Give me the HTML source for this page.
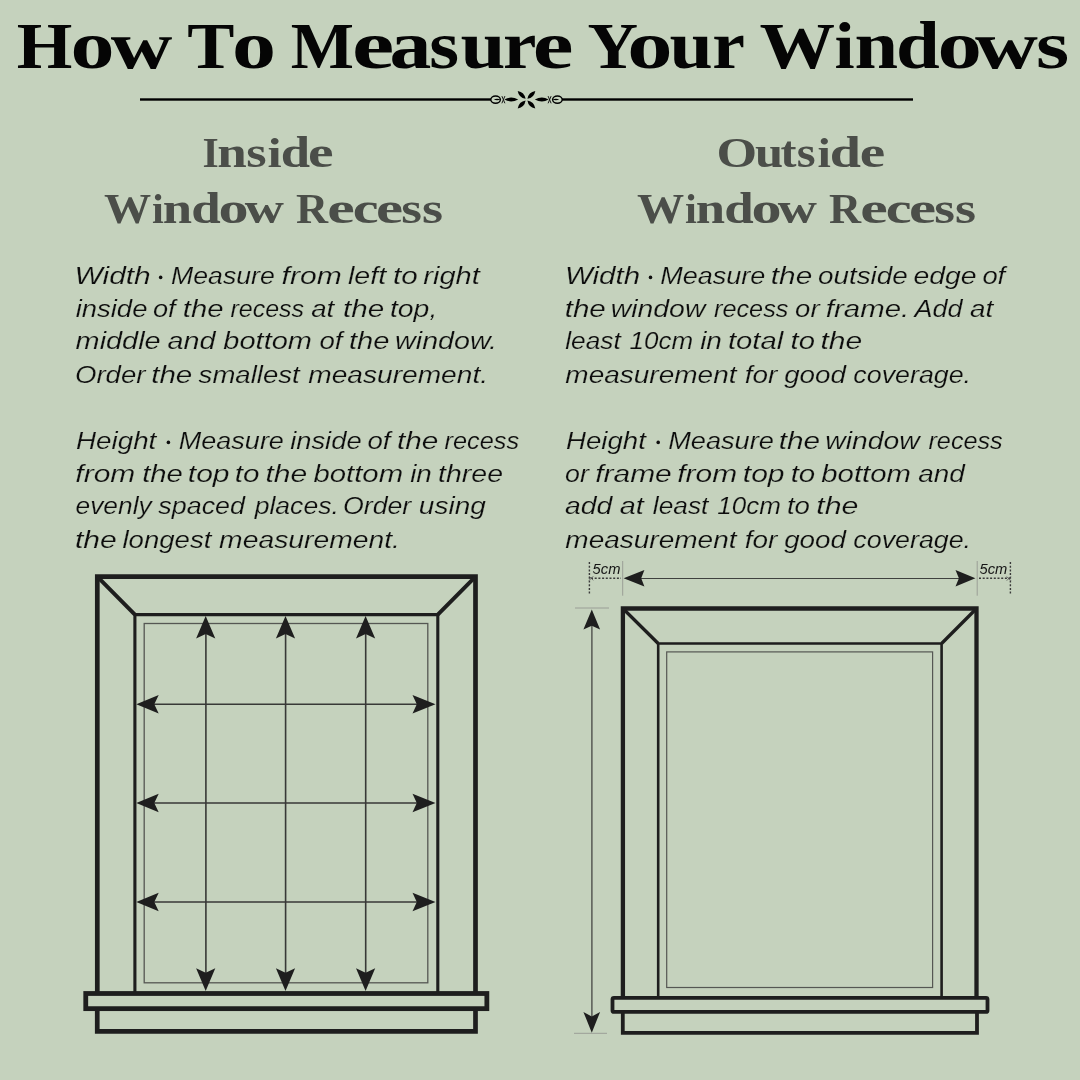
<!DOCTYPE html>
<html>
<head>
<meta charset="utf-8">
<style>
html,body{margin:0;padding:0;}
body{width:1080px;height:1080px;background:#c5d2bd;overflow:hidden;}
svg{display:block;}
svg{will-change:transform;}
.t{font-family:"Liberation Serif",serif;font-weight:bold;}
.b{font-family:"Liberation Sans",sans-serif;font-style:italic;font-size:23.3px;fill:#0d0d0d;stroke:#c5d2bd;stroke-width:0.2px;}
.h{font-family:"Liberation Serif",serif;font-weight:bold;fill:#4b4e49;}
</style>
</head>
<body>
<svg width="1080" height="1080" viewBox="0 0 1080 1080">
<rect width="1080" height="1080" fill="#c5d2bd"/>
<!-- Title -->
<!--TITLE-->
<g fill="#050505">
<text class="t" x="16.68" y="68.2" font-size="66.3" textLength="55.61" lengthAdjust="spacingAndGlyphs">H</text>
<text class="t" x="70.55" y="68.2" font-size="68.5" textLength="44.00" lengthAdjust="spacingAndGlyphs">o</text>
<text class="t" x="110.65" y="68.2" font-size="68.5" textLength="61.61" lengthAdjust="spacingAndGlyphs">w</text>
<text class="t" x="187.29" y="68.2" font-size="66.3" textLength="47.18" lengthAdjust="spacingAndGlyphs">T</text>
<text class="t" x="232.05" y="68.2" font-size="68.5" textLength="44.00" lengthAdjust="spacingAndGlyphs">o</text>
<text class="t" x="290.86" y="68.2" font-size="66.3" textLength="63.17" lengthAdjust="spacingAndGlyphs">M</text>
<text class="t" x="352.05" y="68.2" font-size="68.5" textLength="42.21" lengthAdjust="spacingAndGlyphs">e</text>
<text class="t" x="389.50" y="68.2" font-size="68.5" textLength="41.87" lengthAdjust="spacingAndGlyphs">a</text>
<text class="t" x="429.28" y="68.2" font-size="68.5" textLength="29.79" lengthAdjust="spacingAndGlyphs">s</text>
<text class="t" x="460.48" y="68.2" font-size="68.5" textLength="45.00" lengthAdjust="spacingAndGlyphs">u</text>
<text class="t" x="503.08" y="68.2" font-size="68.5" textLength="33.44" lengthAdjust="spacingAndGlyphs">r</text>
<text class="t" x="532.67" y="68.2" font-size="68.5" textLength="40.71" lengthAdjust="spacingAndGlyphs">e</text>
<text class="t" x="587.47" y="68.2" font-size="66.3" textLength="50.56" lengthAdjust="spacingAndGlyphs">Y</text>
<text class="t" x="627.35" y="68.2" font-size="68.5" textLength="45.30" lengthAdjust="spacingAndGlyphs">o</text>
<text class="t" x="669.62" y="68.2" font-size="68.5" textLength="43.27" lengthAdjust="spacingAndGlyphs">u</text>
<text class="t" x="712.22" y="68.2" font-size="68.5" textLength="32.66" lengthAdjust="spacingAndGlyphs">r</text>
<text class="t" x="759.53" y="68.2" font-size="66.3" textLength="75.55" lengthAdjust="spacingAndGlyphs">W</text>
<text class="t" x="834.41" y="68.2" font-size="66.0" textLength="20.16" lengthAdjust="spacingAndGlyphs">i</text>
<text class="t" x="854.40" y="68.2" font-size="68.5" textLength="43.59" lengthAdjust="spacingAndGlyphs">n</text>
<text class="t" x="896.01" y="68.2" font-size="67.5" textLength="43.77" lengthAdjust="spacingAndGlyphs">d</text>
<text class="t" x="937.42" y="68.2" font-size="68.5" textLength="44.36" lengthAdjust="spacingAndGlyphs">o</text>
<text class="t" x="974.94" y="68.2" font-size="68.5" textLength="62.92" lengthAdjust="spacingAndGlyphs">w</text>
<text class="t" x="1036.12" y="68.2" font-size="68.5" textLength="33.16" lengthAdjust="spacingAndGlyphs">s</text>
</g>
<!--/TITLE-->

<!-- Headers -->
<g class="h">
<text x="202.40" y="166.6" font-size="42.5" textLength="16.21" lengthAdjust="spacingAndGlyphs">I</text>
<text x="217.27" y="166.6" font-size="44.6" textLength="29.53" lengthAdjust="spacingAndGlyphs">n</text>
<text x="246.32" y="166.6" font-size="44.6" textLength="20.36" lengthAdjust="spacingAndGlyphs">s</text>
<text x="267.58" y="166.6" font-size="41.5" textLength="14.17" lengthAdjust="spacingAndGlyphs">i</text>
<text x="280.76" y="166.6" font-size="43.8" textLength="29.33" lengthAdjust="spacingAndGlyphs">d</text>
<text x="308.13" y="166.6" font-size="44.6" textLength="25.56" lengthAdjust="spacingAndGlyphs">e</text>
<text x="104.03" y="222.8" font-size="42.5" textLength="47.21" lengthAdjust="spacingAndGlyphs">W</text>
<text x="152.06" y="222.8" font-size="41.5" textLength="11.86" lengthAdjust="spacingAndGlyphs">i</text>
<text x="162.78" y="222.8" font-size="44.6" textLength="29.31" lengthAdjust="spacingAndGlyphs">n</text>
<text x="191.15" y="222.8" font-size="43.8" textLength="29.44" lengthAdjust="spacingAndGlyphs">d</text>
<text x="218.51" y="222.8" font-size="44.6" textLength="30.08" lengthAdjust="spacingAndGlyphs">o</text>
<text x="244.84" y="222.8" font-size="44.6" textLength="39.15" lengthAdjust="spacingAndGlyphs">w</text>
<text x="296.04" y="222.8" font-size="42.5" textLength="32.07" lengthAdjust="spacingAndGlyphs">R</text>
<text x="327.28" y="222.8" font-size="44.6" textLength="27.52" lengthAdjust="spacingAndGlyphs">e</text>
<text x="352.71" y="222.8" font-size="44.6" textLength="25.84" lengthAdjust="spacingAndGlyphs">c</text>
<text x="375.92" y="222.8" font-size="44.6" textLength="27.06" lengthAdjust="spacingAndGlyphs">e</text>
<text x="401.39" y="222.8" font-size="44.6" textLength="20.71" lengthAdjust="spacingAndGlyphs">s</text>
<text x="422.06" y="222.8" font-size="44.6" textLength="21.06" lengthAdjust="spacingAndGlyphs">s</text>
<text x="716.45" y="166.6" font-size="42.5" textLength="40.60" lengthAdjust="spacingAndGlyphs">O</text>
<text x="754.93" y="166.6" font-size="44.6" textLength="28.12" lengthAdjust="spacingAndGlyphs">u</text>
<text x="780.43" y="166.6" font-size="43.5" textLength="15.98" lengthAdjust="spacingAndGlyphs">t</text>
<text x="796.83" y="166.6" font-size="44.6" textLength="18.85" lengthAdjust="spacingAndGlyphs">s</text>
<text x="817.64" y="166.6" font-size="41.5" textLength="13.36" lengthAdjust="spacingAndGlyphs">i</text>
<text x="829.73" y="166.6" font-size="43.8" textLength="31.20" lengthAdjust="spacingAndGlyphs">d</text>
<text x="859.74" y="166.6" font-size="44.6" textLength="25.44" lengthAdjust="spacingAndGlyphs">e</text>
<text x="637.03" y="222.8" font-size="42.5" textLength="47.21" lengthAdjust="spacingAndGlyphs">W</text>
<text x="685.06" y="222.8" font-size="41.5" textLength="11.86" lengthAdjust="spacingAndGlyphs">i</text>
<text x="695.78" y="222.8" font-size="44.6" textLength="29.31" lengthAdjust="spacingAndGlyphs">n</text>
<text x="724.15" y="222.8" font-size="43.8" textLength="29.44" lengthAdjust="spacingAndGlyphs">d</text>
<text x="751.51" y="222.8" font-size="44.6" textLength="30.08" lengthAdjust="spacingAndGlyphs">o</text>
<text x="777.84" y="222.8" font-size="44.6" textLength="39.15" lengthAdjust="spacingAndGlyphs">w</text>
<text x="829.04" y="222.8" font-size="42.5" textLength="32.07" lengthAdjust="spacingAndGlyphs">R</text>
<text x="860.28" y="222.8" font-size="44.6" textLength="27.52" lengthAdjust="spacingAndGlyphs">e</text>
<text x="885.71" y="222.8" font-size="44.6" textLength="25.84" lengthAdjust="spacingAndGlyphs">c</text>
<text x="908.92" y="222.8" font-size="44.6" textLength="27.06" lengthAdjust="spacingAndGlyphs">e</text>
<text x="934.39" y="222.8" font-size="44.6" textLength="20.71" lengthAdjust="spacingAndGlyphs">s</text>
<text x="955.06" y="222.8" font-size="44.6" textLength="21.06" lengthAdjust="spacingAndGlyphs">s</text>
</g>
<!-- Body left -->
<g class="b">
<text x="74.52" y="283.9" textLength="76.25" lengthAdjust="spacingAndGlyphs">Width</text>
<circle cx="160.65" cy="277.4" r="1.8" stroke="none"/>
<text x="171.08" y="283.9" textLength="103.61" lengthAdjust="spacingAndGlyphs">Measure</text>
<text x="281.59" y="283.9" textLength="60.11" lengthAdjust="spacingAndGlyphs">from</text>
<text x="347.94" y="283.9" textLength="38.17" lengthAdjust="spacingAndGlyphs">left</text>
<text x="392.96" y="283.9" textLength="24.68" lengthAdjust="spacingAndGlyphs">to</text>
<text x="423.32" y="283.9" textLength="56.48" lengthAdjust="spacingAndGlyphs">right</text>
<text x="75.66" y="316.8" textLength="71.76" lengthAdjust="spacingAndGlyphs">inside</text>
<text x="153.01" y="316.8" textLength="22.64" lengthAdjust="spacingAndGlyphs">of</text>
<text x="182.77" y="316.8" textLength="40.72" lengthAdjust="spacingAndGlyphs">the</text>
<text x="230.48" y="316.8" textLength="73.63" lengthAdjust="spacingAndGlyphs">recess</text>
<text x="311.18" y="316.8" textLength="23.06" lengthAdjust="spacingAndGlyphs">at</text>
<text x="343.06" y="316.8" textLength="41.14" lengthAdjust="spacingAndGlyphs">the</text>
<text x="389.91" y="316.8" textLength="47.39" lengthAdjust="spacingAndGlyphs">top,</text>
<text x="75.62" y="349.4" textLength="85.05" lengthAdjust="spacingAndGlyphs">middle</text>
<text x="167.55" y="349.4" textLength="47.99" lengthAdjust="spacingAndGlyphs">and</text>
<text x="223.39" y="349.4" textLength="88.55" lengthAdjust="spacingAndGlyphs">bottom</text>
<text x="319.40" y="349.4" textLength="23.02" lengthAdjust="spacingAndGlyphs">of</text>
<text x="348.98" y="349.4" textLength="40.50" lengthAdjust="spacingAndGlyphs">the</text>
<text x="395.09" y="349.4" textLength="101.96" lengthAdjust="spacingAndGlyphs">window.</text>
<text x="75.01" y="382.8" textLength="70.47" lengthAdjust="spacingAndGlyphs">Order</text>
<text x="151.16" y="382.8" textLength="41.14" lengthAdjust="spacingAndGlyphs">the</text>
<text x="198.63" y="382.8" textLength="101.01" lengthAdjust="spacingAndGlyphs">smallest</text>
<text x="308.23" y="382.8" textLength="179.81" lengthAdjust="spacingAndGlyphs">measurement.</text>
<text x="75.94" y="448.9" textLength="80.39" lengthAdjust="spacingAndGlyphs">Height</text>
<circle cx="168.40" cy="442.4" r="1.8" stroke="none"/>
<text x="178.87" y="448.9" textLength="105.03" lengthAdjust="spacingAndGlyphs">Measure</text>
<text x="290.16" y="448.9" textLength="71.46" lengthAdjust="spacingAndGlyphs">inside</text>
<text x="367.40" y="448.9" textLength="23.02" lengthAdjust="spacingAndGlyphs">of</text>
<text x="396.95" y="448.9" textLength="41.35" lengthAdjust="spacingAndGlyphs">the</text>
<text x="444.58" y="448.9" textLength="74.54" lengthAdjust="spacingAndGlyphs">recess</text>
<text x="75.39" y="481.8" textLength="59.90" lengthAdjust="spacingAndGlyphs">from</text>
<text x="142.17" y="481.8" textLength="40.72" lengthAdjust="spacingAndGlyphs">the</text>
<text x="187.84" y="481.8" textLength="41.73" lengthAdjust="spacingAndGlyphs">top</text>
<text x="234.76" y="481.8" textLength="24.68" lengthAdjust="spacingAndGlyphs">to</text>
<text x="265.44" y="481.8" textLength="41.78" lengthAdjust="spacingAndGlyphs">the</text>
<text x="313.49" y="481.8" textLength="89.57" lengthAdjust="spacingAndGlyphs">bottom</text>
<text x="410.15" y="481.8" textLength="21.72" lengthAdjust="spacingAndGlyphs">in</text>
<text x="438.11" y="481.8" textLength="64.85" lengthAdjust="spacingAndGlyphs">three</text>
<text x="75.51" y="514.4" textLength="76.16" lengthAdjust="spacingAndGlyphs">evenly</text>
<text x="158.33" y="514.4" textLength="86.66" lengthAdjust="spacingAndGlyphs">spaced</text>
<text x="254.66" y="514.4" textLength="84.20" lengthAdjust="spacingAndGlyphs">places.</text>
<text x="342.95" y="514.4" textLength="68.35" lengthAdjust="spacingAndGlyphs">Order</text>
<text x="418.82" y="514.4" textLength="67.02" lengthAdjust="spacingAndGlyphs">using</text>
<text x="74.93" y="547.8" textLength="41.89" lengthAdjust="spacingAndGlyphs">the</text>
<text x="122.46" y="547.8" textLength="88.89" lengthAdjust="spacingAndGlyphs">longest</text>
<text x="219.13" y="547.8" textLength="180.84" lengthAdjust="spacingAndGlyphs">measurement.</text>
<text x="564.96" y="283.9" textLength="75.19" lengthAdjust="spacingAndGlyphs">Width</text>
<circle cx="650.50" cy="277.4" r="1.8" stroke="none"/>
<text x="660.27" y="283.9" textLength="105.13" lengthAdjust="spacingAndGlyphs">Measure</text>
<text x="770.85" y="283.9" textLength="41.35" lengthAdjust="spacingAndGlyphs">the</text>
<text x="817.99" y="283.9" textLength="89.74" lengthAdjust="spacingAndGlyphs">outside</text>
<text x="913.44" y="283.9" textLength="63.21" lengthAdjust="spacingAndGlyphs">edge</text>
<text x="982.40" y="283.9" textLength="22.83" lengthAdjust="spacingAndGlyphs">of</text>
<text x="564.66" y="316.8" textLength="41.14" lengthAdjust="spacingAndGlyphs">the</text>
<text x="610.79" y="316.8" textLength="94.59" lengthAdjust="spacingAndGlyphs">window</text>
<text x="713.98" y="316.8" textLength="74.44" lengthAdjust="spacingAndGlyphs">recess</text>
<text x="795.10" y="316.8" textLength="24.47" lengthAdjust="spacingAndGlyphs">or</text>
<text x="825.81" y="316.8" textLength="83.40" lengthAdjust="spacingAndGlyphs">frame.</text>
<text x="914.43" y="316.8" textLength="47.96" lengthAdjust="spacingAndGlyphs">Add</text>
<text x="969.97" y="316.8" textLength="23.26" lengthAdjust="spacingAndGlyphs">at</text>
<text x="565.28" y="349.4" textLength="55.51" lengthAdjust="spacingAndGlyphs">least</text>
<text x="629.63" y="349.4" textLength="63.58" lengthAdjust="spacingAndGlyphs">10cm</text>
<text x="700.15" y="349.4" textLength="21.83" lengthAdjust="spacingAndGlyphs">in</text>
<text x="727.97" y="349.4" textLength="55.27" lengthAdjust="spacingAndGlyphs">total</text>
<text x="790.57" y="349.4" textLength="24.35" lengthAdjust="spacingAndGlyphs">to</text>
<text x="820.44" y="349.4" textLength="41.78" lengthAdjust="spacingAndGlyphs">the</text>
<text x="565.34" y="382.8" textLength="171.19" lengthAdjust="spacingAndGlyphs">measurement</text>
<text x="744.86" y="382.8" textLength="32.50" lengthAdjust="spacingAndGlyphs">for</text>
<text x="784.15" y="382.8" textLength="61.82" lengthAdjust="spacingAndGlyphs">good</text>
<text x="853.32" y="382.8" textLength="117.76" lengthAdjust="spacingAndGlyphs">coverage.</text>
<text x="565.95" y="448.9" textLength="79.99" lengthAdjust="spacingAndGlyphs">Height</text>
<circle cx="658.20" cy="442.4" r="1.8" stroke="none"/>
<text x="668.16" y="448.9" textLength="105.74" lengthAdjust="spacingAndGlyphs">Measure</text>
<text x="778.65" y="448.9" textLength="41.35" lengthAdjust="spacingAndGlyphs">the</text>
<text x="825.29" y="448.9" textLength="94.29" lengthAdjust="spacingAndGlyphs">window</text>
<text x="928.48" y="448.9" textLength="74.24" lengthAdjust="spacingAndGlyphs">recess</text>
<text x="565.13" y="481.8" textLength="23.77" lengthAdjust="spacingAndGlyphs">or</text>
<text x="595.19" y="481.8" textLength="76.62" lengthAdjust="spacingAndGlyphs">frame</text>
<text x="677.19" y="481.8" textLength="59.90" lengthAdjust="spacingAndGlyphs">from</text>
<text x="742.84" y="481.8" textLength="41.73" lengthAdjust="spacingAndGlyphs">top</text>
<text x="790.66" y="481.8" textLength="24.57" lengthAdjust="spacingAndGlyphs">to</text>
<text x="821.28" y="481.8" textLength="89.68" lengthAdjust="spacingAndGlyphs">bottom</text>
<text x="918.27" y="481.8" textLength="46.59" lengthAdjust="spacingAndGlyphs">and</text>
<text x="565.06" y="514.4" textLength="47.29" lengthAdjust="spacingAndGlyphs">add</text>
<text x="619.65" y="514.4" textLength="24.05" lengthAdjust="spacingAndGlyphs">at</text>
<text x="652.88" y="514.4" textLength="55.51" lengthAdjust="spacingAndGlyphs">least</text>
<text x="717.23" y="514.4" textLength="63.58" lengthAdjust="spacingAndGlyphs">10cm</text>
<text x="786.95" y="514.4" textLength="23.03" lengthAdjust="spacingAndGlyphs">to</text>
<text x="816.32" y="514.4" textLength="42.10" lengthAdjust="spacingAndGlyphs">the</text>
<text x="565.34" y="547.8" textLength="171.19" lengthAdjust="spacingAndGlyphs">measurement</text>
<text x="744.86" y="547.8" textLength="32.50" lengthAdjust="spacingAndGlyphs">for</text>
<text x="784.15" y="547.8" textLength="61.82" lengthAdjust="spacingAndGlyphs">good</text>
<text x="853.32" y="547.8" textLength="117.76" lengthAdjust="spacingAndGlyphs">coverage.</text>
</g>

<!-- Left diagram -->
<g fill="none" stroke="#1e1e1e" stroke-linejoin="miter">
<path d="M97.3,993 V576.7 H475.5 V993" stroke-width="4.7"/>
<path d="M134.9,993 V614.6 H437.8 V993" stroke-width="3.1"/>
<path d="M97.3,576.7 L134.9,614.6 M475.5,576.7 L437.8,614.6" stroke-width="4.0"/>
<rect x="144.2" y="623.5" width="283.6" height="359.3" stroke-width="1.3" stroke="#555753"/>
<rect x="85.75" y="993.5" width="401.1" height="15.15" stroke-width="4.8"/>
<path d="M97.25,1011 V1031.3 H475.5 V1011" stroke-width="4.7"/>
</g>
<g stroke="#383937" stroke-width="1.6" fill="none">
<path d="M205.9,630 V978 M285.6,630 V978 M365.7,630 V978"/>
<path d="M150,704.3 H422 M150,803 H422 M150,902 H422"/>
</g>
<g fill="#1e1e1e">
<!-- up heads -->
<path d="M205.7,616 L215.3,638.5 L205.7,634 L196.1,638.5Z"/>
<path d="M285.5,616 L295.1,638.5 L285.5,634 L275.9,638.5Z"/>
<path d="M365.6,616 L375.2,638.5 L365.6,634 L356,638.5Z"/>
<!-- down heads -->
<path d="M205.7,991 L215.3,968.3 L205.7,972.8 L196.1,968.3Z"/>
<path d="M285.5,991 L295.1,968.3 L285.5,972.8 L275.9,968.3Z"/>
<path d="M365.6,991 L375.2,968.3 L365.6,972.8 L356,968.3Z"/>
<!-- left heads -->
<path d="M136.3,704.3 L158.7,695 L154.3,704.3 L158.7,713.6Z"/>
<path d="M136.3,803 L158.7,793.7 L154.3,803 L158.7,812.3Z"/>
<path d="M136.3,902 L158.7,892.7 L154.3,902 L158.7,911.3Z"/>
<!-- right heads -->
<path d="M435.5,704.3 L412.5,695 L416.8,704.3 L412.5,713.6Z"/>
<path d="M435.5,803 L412.5,793.7 L416.8,803 L412.5,812.3Z"/>
<path d="M435.5,902 L412.5,892.7 L416.8,902 L412.5,911.3Z"/>
</g>

<!-- Right diagram -->
<g fill="none" stroke="#1e1e1e" stroke-linejoin="miter">
<path d="M622.9,998 V608.5 H976.5 V998" stroke-width="4.3"/>
<path d="M658.2,998 V643.5 H941.6 V998" stroke-width="2.6"/>
<path d="M622.9,608.5 L658.2,643.5 M976.5,608.5 L941.6,643.5" stroke-width="3.3"/>
<rect x="666.7" y="651.9" width="265.9" height="335.6" stroke-width="1.2" stroke="#555753"/>
<rect x="612.5" y="997.8" width="375" height="14.1" rx="1.5" stroke-width="3.8"/>
<path d="M622.8,1013 V1032.9 H977 V1013" stroke-width="3.8"/>
</g>
<!-- dimension lines -->
<g stroke="#444643" stroke-width="1.3" fill="none">
<path d="M591.9,625 V1017"/>
<path d="M640,578.5 H960" stroke="#3f413e" stroke-width="1.2"/>
</g>
<g stroke="#9a9e96" stroke-width="1" fill="none">
<path d="M575,608 H609 M574,1033.3 H607"/>
<path d="M622.7,561 V595.7 M977.2,561 V595.7"/>
</g>
<g stroke="#3a3a3a" stroke-width="1.4" fill="none" stroke-dasharray="2,1.7">
<path d="M589.4,562 V595 M1010.4,562 V595"/>
<path d="M591,578.3 H621 M979,578.3 H1010"/>
</g>
<g stroke="#555" stroke-width="0.9" fill="none"><path d="M589.2,576.3 L593.2,580.3 M589.2,580.3 L593.2,576.3 M1006.8,576.6 L1010.8,580.6 M1006.8,580.6 L1010.8,576.6"/></g>
<g fill="#1e1e1e">
<path d="M591.8,609.6 L600.1,629.5 L591.8,625.8 L583.4,629.5Z"/>
<path d="M591.8,1032.7 L600.1,1011.9 L591.8,1016.5 L583.4,1011.9Z"/>
<path d="M623.6,578.3 L644.4,569.9 L641.2,578.3 L644.4,586.6Z"/>
<path d="M975.4,578.3 L955.5,569.9 L958.9,578.3 L955.5,586.6Z"/>
</g>
<g font-family="Liberation Sans, sans-serif" font-style="italic" font-size="14" fill="#151515">
<text x="592.6" y="574" textLength="27.8" lengthAdjust="spacingAndGlyphs">5cm</text>
<text x="979.5" y="574" textLength="27.8" lengthAdjust="spacingAndGlyphs">5cm</text>
</g>

<!-- Ornament -->
<g fill="#000" stroke="none">
<rect x="140" y="98.3" width="351" height="2.4"/>
<rect x="562" y="98.3" width="351" height="2.4"/>
<g id="oh">
<ellipse cx="495.6" cy="99.6" rx="4.8" ry="3.6" fill="none" stroke="#000" stroke-width="1.4"/>
<path d="M493.8,99.5 Q497,97.9 500.6,99.5 Q497,101.1 493.8,99.5Z"/>
<path d="M504.4,99.5 Q511,95.7 518.2,99.5 Q511,103.3 504.4,99.5Z"/>
<g stroke="#111" stroke-width="0.95" fill="none">
<path d="M501.9,96.1 L504.9,103.3 M501.9,103.3 L504.9,96.1"/>
</g>
<path d="M525.60,98.80 Q524.48,92.02 517.70,90.90 Q518.82,97.68 525.60,98.80Z"/>
<path d="M525.60,100.60 Q518.82,101.72 517.70,108.50 Q524.48,107.38 525.60,100.60Z"/>
</g>
<use href="#oh" transform="translate(1053,0) scale(-1,1)"/>
</g>
</svg>
</body>
</html>
